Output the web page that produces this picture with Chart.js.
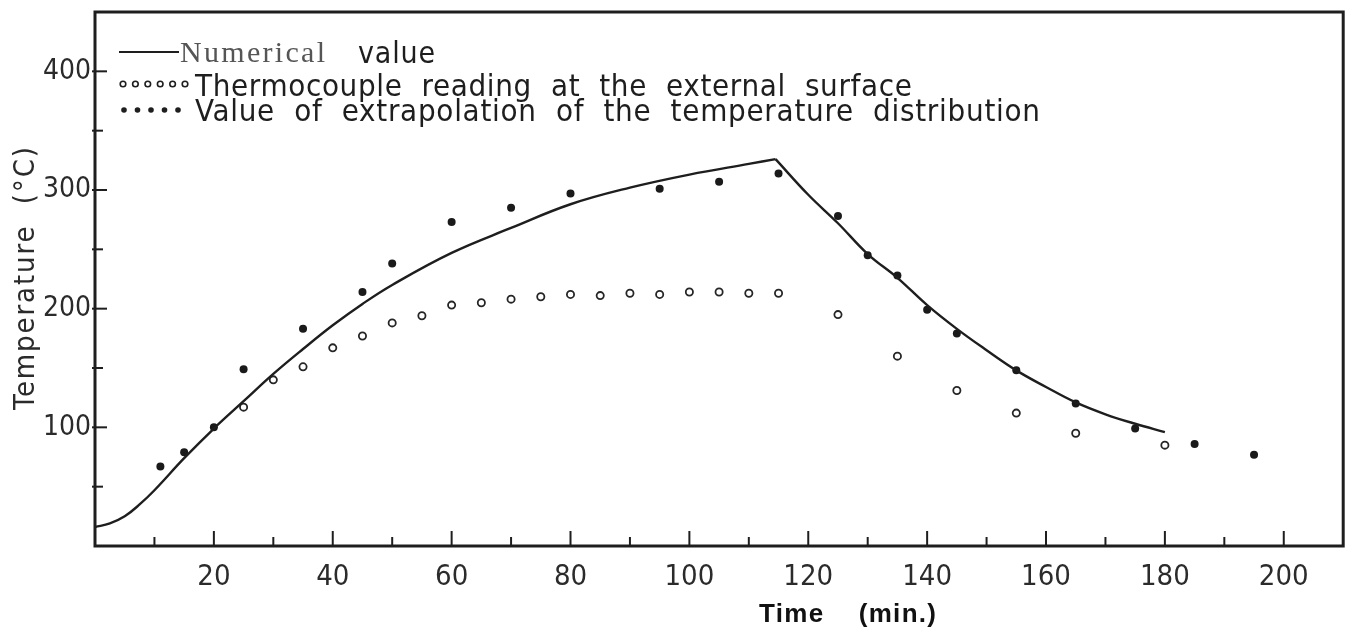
<!DOCTYPE html>
<html>
<head>
<meta charset="utf-8">
<script src="https://cdn.jsdelivr.net/npm/chart.js@4.4.1/dist/chart.umd.min.js"></script>
<style>
  html, body { margin: 0; padding: 0; background: #fff; }
</style>
</head>
<body>
<canvas id="myChart" width="1349" height="637"></canvas>
<script>
// values: time in min, temperature in °C
var numRiseTime = [0, 2.5, 5, 7.5, 10, 15, 20, 25, 30, 35, 40, 45, 50, 60, 70, 80, 90, 100, 110, 114.5];
var numRiseTemp = [16, 19, 25, 35, 47, 74, 99, 122, 145, 166, 186, 204, 220, 247, 268, 288, 302, 313, 322, 326];
var numFallTime = [114.5, 120, 125, 130, 135, 140, 145, 150, 155, 160, 165, 170, 175, 180];
var numFallTemp = [326, 296, 272, 246, 226, 203, 183, 165, 148, 134, 121, 111, 103, 96];

var thermoTime = [25, 30, 35, 40, 45, 50, 55, 60, 65, 70, 75, 80, 85, 90, 95, 100, 105, 110, 115, 125, 135, 145, 155, 165, 180];
var thermoTemp = [117, 140, 151, 167, 177, 188, 194, 203, 205, 208, 210, 212, 211, 213, 212, 214, 214, 213, 213, 195, 160, 131, 112, 95, 85];

var extrapTime = [11, 15, 20, 25, 35, 45, 50, 60, 70, 80, 95, 105, 115, 125, 130, 135, 140, 145, 155, 165, 175, 185, 195];
var extrapTemp = [67, 79, 100, 149, 183, 214, 238, 273, 285, 297, 301, 307, 314, 278, 245, 228, 199, 179, 148, 120, 99, 86, 77];

var xTickLabels = [20, 40, 60, 80, 100, 120, 140, 160, 180, 200];
var yTickLabels = [100, 200, 300, 400];

var legendTexts = ['Numerical', 'value', 'Thermocouple  reading  at  the  external  surface',
                   'Value  of  extrapolation  of  the  temperature  distribution'];
var xTitle = 'Time    (min.)';
var yTitle = 'Temperature  (°C)';

var FONT = "'DejaVu Sans Condensed', 'DejaVu Sans', sans-serif";
var INK = '#1e1e1e';

function pairs(xs, ys) {
    return xs.map(function (x, i) { return { x: x, y: ys[i] }; });
}

// draws text stretched to a given width with letter spacing
function fitText(c, str, x, y, w) {
    c.letterSpacing = '0px';
    var m = c.measureText(str).width;
    var ls = (w - m) / Math.max(1, str.length - 1);
    c.letterSpacing = ls.toFixed(2) + 'px';
    c.fillText(str, x, y);
    c.letterSpacing = '0px';
}

// box frame and inward tick marks
var frameTicks = {
    id: 'frameTicks',
    beforeDatasetsDraw: function (chart) {
        var a = chart.chartArea, c = chart.ctx, xs = chart.scales.x, ys = chart.scales.y;
        c.save();
        c.strokeStyle = INK;
        c.lineWidth = 2;
        xs.ticks.forEach(function (t) {
            if (t.value <= 0 || t.value >= xs.max) return;
            var px = xs.getPixelForValue(t.value);
            var len = t.value % 20 === 0 ? 15 : 9;
            c.beginPath(); c.moveTo(px, a.bottom); c.lineTo(px, a.bottom - len); c.stroke();
        });
        ys.ticks.forEach(function (t) {
            if (t.value <= 0 || t.value >= ys.max) return;
            var py = ys.getPixelForValue(t.value);
            var len = t.value % 100 === 0 ? 12 : 8;
            c.beginPath(); c.moveTo(a.left - 3, py); c.lineTo(a.left + len, py); c.stroke();
        });
        c.lineWidth = 3;
        c.strokeRect(a.left, a.top, a.right - a.left, a.bottom - a.top);
        c.restore();
    }
};

// legend inside the plot and both axis titles
var annotations = {
    id: 'annotations',
    afterDraw: function (chart) {
        var c = chart.ctx, i;
        c.save();
        c.fillStyle = INK;
        c.strokeStyle = INK;
        c.textBaseline = 'alphabetic';

        // row 1: solid line
        c.lineWidth = 2;
        c.beginPath(); c.moveTo(119, 52); c.lineTo(179, 52); c.stroke();
        c.font = "30px 'Liberation Serif', serif";
        c.fillStyle = '#555';
        fitText(c, legendTexts[0], 180, 62, 145);
        c.fillStyle = INK;
        c.font = '30px ' + FONT;
        fitText(c, legendTexts[1], 358, 63, 77);

        // row 2: open circles
        c.lineWidth = 1.6;
        for (i = 0; i < 6; i++) {
            c.beginPath(); c.arc(123 + i * 12.4, 84, 2.8, 0, Math.PI * 2); c.stroke();
        }
        c.font = '31px ' + FONT;
        fitText(c, legendTexts[2], 195, 96, 717);

        // row 3: filled dots
        for (i = 0; i < 5; i++) {
            c.beginPath(); c.arc(124 + i * 13.5, 110, 2.8, 0, Math.PI * 2); c.fill();
        }
        fitText(c, legendTexts[3], 195, 121, 845);

        // x axis title
        c.font = "bold 26px 'Liberation Sans', Arial, sans-serif";
        c.fillStyle = '#111';
        fitText(c, xTitle, 759, 622, 177);

        // y axis title, rotated
        c.save();
        c.translate(34, 410);
        c.rotate(-Math.PI / 2);
        c.font = '29px ' + FONT;
        c.fillStyle = '#2b2b2b';
        fitText(c, yTitle, 0, 0, 263);
        c.restore();

        c.restore();
    }
};

var ctx = document.getElementById('myChart').getContext('2d');

var myChart = new Chart(ctx, {
    type: 'scatter',
    data: {
        datasets: [{
            type: 'line',
            label: 'Numerical value',
            data: pairs(numRiseTime, numRiseTemp),
            borderColor: INK,
            borderWidth: 2.4,
            pointRadius: 0,
            tension: 0.4,
            fill: false
        }, {
            type: 'line',
            label: 'Numerical value (cooling)',
            data: pairs(numFallTime, numFallTemp),
            borderColor: INK,
            borderWidth: 2.4,
            pointRadius: 0,
            tension: 0.4,
            fill: false
        }, {
            label: 'Thermocouple reading at the external surface',
            data: pairs(thermoTime, thermoTemp),
            pointStyle: 'circle',
            pointRadius: 3.6,
            borderWidth: 1.8,
            borderColor: '#262626',
            backgroundColor: '#fff'
        }, {
            label: 'Value of extrapolation of the temperature distribution',
            data: pairs(extrapTime, extrapTemp),
            pointStyle: 'circle',
            pointRadius: 4,
            borderWidth: 0,
            borderColor: '#1a1a1a',
            backgroundColor: '#1a1a1a'
        }]
    },
    options: {
        responsive: false,
        animation: false,
        layout: { padding: { top: 12, right: 3, left: 0, bottom: 0 } },
        plugins: {
            legend: { display: false },
            tooltip: { enabled: false }
        },
        scales: {
            x: {
                type: 'linear',
                min: 0,
                max: 210,
                grid: { display: true, drawOnChartArea: false, drawTicks: false },
                border: { display: false },
                ticks: {
                    stepSize: 10,
                    autoSkip: false,
                    maxRotation: 0,
                    padding: 14,
                    color: '#2b2b2b',
                    font: { family: FONT, size: 29 },
                    callback: function (v) { return xTickLabels.indexOf(v) >= 0 ? String(v) : ''; }
                },
                afterFit: function (s) {
                    s.height = 91;
                    s.paddingLeft = 0;
                    s.paddingRight = 0;
                }
            },
            y: {
                type: 'linear',
                min: 0,
                max: 450,
                grid: { display: true, drawOnChartArea: false, drawTicks: false },
                border: { display: false },
                ticks: {
                    stepSize: 50,
                    autoSkip: false,
                    padding: 4,
                    color: '#2b2b2b',
                    font: { family: FONT, size: 28 },
                    callback: function (v) { return yTickLabels.indexOf(v) >= 0 ? String(v) : ''; }
                },
                afterFit: function (s) {
                    s.width = 95;
                    s.paddingTop = 0;
                    s.paddingBottom = 0;
                }
            }
        }
    },
    plugins: [frameTicks, annotations]
});
</script>
</body>
</html>
